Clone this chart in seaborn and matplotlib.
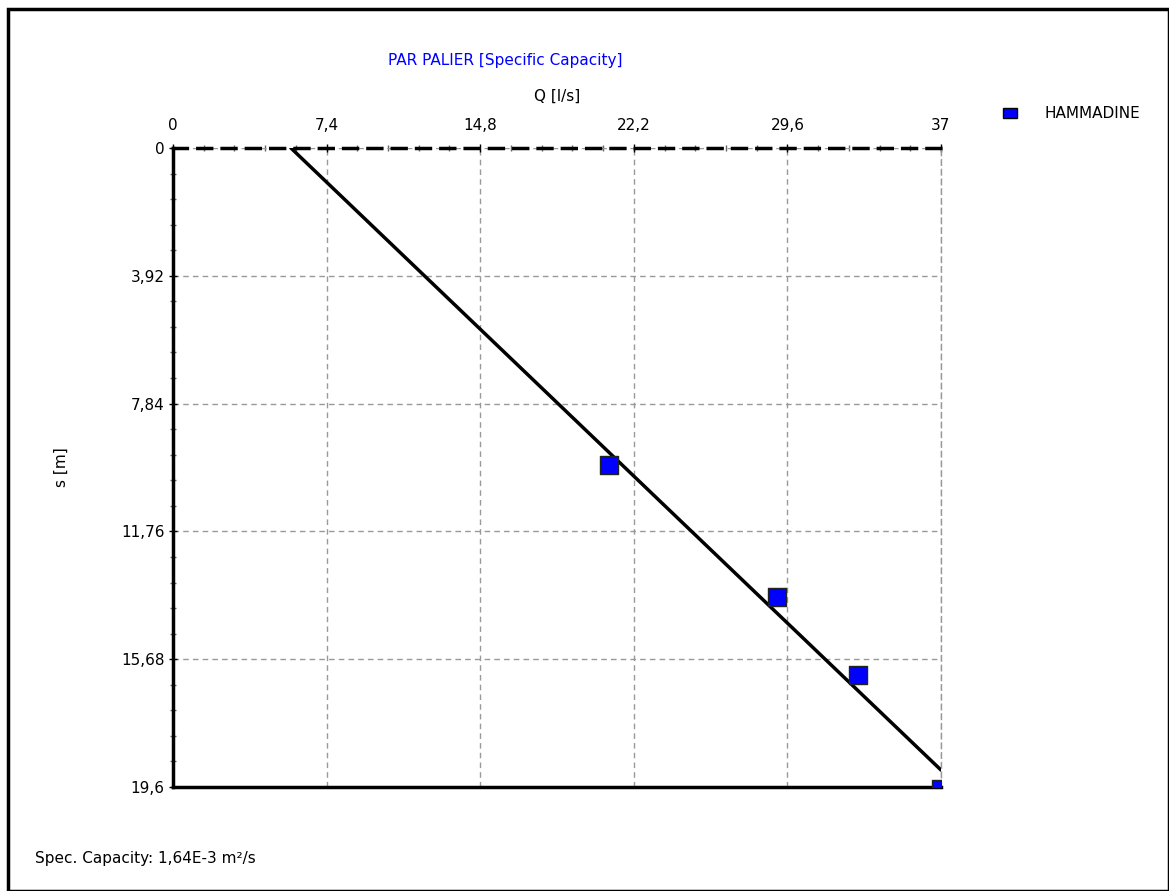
import matplotlib
matplotlib.use("Agg")
import matplotlib.pyplot as plt
from matplotlib.ticker import MultipleLocator
from matplotlib.patches import Rectangle
import seaborn as sns
import pandas as pd

# données
q_points = [21.0, 29.1, 33.0, 37.0]
s_points = [9.72, 13.77, 16.17, 19.65]
q_fit = [5.68, 37.0]
s_fit = [0.0, 19.08]
x_ticks = [0, 7.4, 14.8, 22.2, 29.6, 37]
x_labels = ["0", "7,4", "14,8", "22,2", "29,6", "37"]
y_ticks = [0, 3.92, 7.84, 11.76, 15.68, 19.6]
y_labels = ["0", "3,92", "7,84", "11,76", "15,68", "19,6"]

sns.set_style("white")
plt.rcParams['font.family'] = ['DejaVu Sans']
plt.rcParams.update({"text.color": "black", "axes.labelcolor": "black",
                     "xtick.color": "black", "ytick.color": "black"})

fig = plt.figure(figsize=(11.69, 8.91), dpi=100)
ax = fig.add_axes([173/1169, 1-787/891, (941-173)/1169, (787-148)/891])

pts = pd.DataFrame({"Q": q_points, "s": s_points})
fit = pd.DataFrame({"Q": q_fit, "s": s_fit})

sns.lineplot(data=fit, x="Q", y="s", color="black", lw=2.5, ax=ax, zorder=3)
sns.scatterplot(data=pts, x="Q", y="s", marker="s", s=170, color="#0000ff",
                edgecolor="#222222", linewidth=1, ax=ax, zorder=4, clip_on=True)

ax.set_xlim(0, 37)
ax.set_ylim(19.6, 0)
ax.xaxis.tick_top()
ax.xaxis.set_label_position("top")
ax.set_xticks(x_ticks)
ax.set_xticklabels(x_labels)
ax.set_yticks(y_ticks)
ax.set_yticklabels(y_labels)
ax.xaxis.set_minor_locator(MultipleLocator(7.4/5))
ax.yaxis.set_minor_locator(MultipleLocator(3.92/5))
ax.tick_params(axis="x", which="major", length=6, width=1, colors="black",
               labelsize=11, pad=8, direction="inout", top=True)
ax.tick_params(axis="y", which="major", length=6, width=1, colors="black",
               labelsize=11, pad=3, direction="inout", left=True)
ax.tick_params(axis="both", which="minor", length=4, width=1, color="#666666",
               direction="inout", top=True, left=True)
ax.grid(True, which="major", color="#999999", ls=(0, (4, 3)), lw=1)

ax.set_xlabel("Q [l/s]", fontsize=11, labelpad=12)
ax.set_ylabel("s [m]", fontsize=11, labelpad=38)
ax.set_title("PAR PALIER [Specific Capacity]", color="#0000ff", fontsize=11,
             x=(505-173)/768, pad=17)

for side in ["left", "bottom"]:
    ax.spines[side].set_color("black")
    ax.spines[side].set_linewidth(2.5)
ax.spines["top"].set_color("black")
ax.spines["top"].set_linewidth(2.5)
ax.spines["top"].set_linestyle((0, (4, 3)))
ax.spines["right"].set_color("#999999")
ax.spines["right"].set_linewidth(1)
ax.spines["right"].set_linestyle((0, (4, 3)))

# légende
fig.add_artist(Rectangle((1003/1169, 1-118/891), 14/1169, 10/891, transform=fig.transFigure,
                         facecolor="#0000ff", edgecolor="black", lw=1))
fig.text(1045/1169, 1-113/891, "HAMMADINE", fontsize=11, ha="left", va="center")

fig.text(35/1169, 1-858/891, "Spec. Capacity: 1,64E-3 m²/s", fontsize=11, ha="left", va="center")

fig.add_artist(Rectangle((8/1169, 0), 1 - 8/1169, 1 - 9/891, transform=fig.transFigure,
                         fill=False, edgecolor="black", lw=2.5))

fig.savefig("out.png", dpi=100)
